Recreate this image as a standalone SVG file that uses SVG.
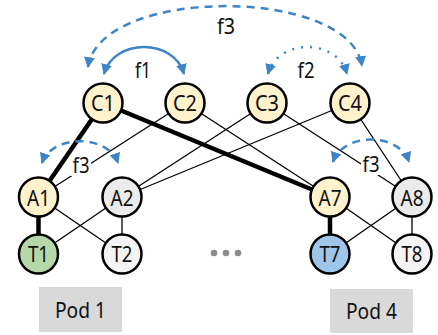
<svg xmlns="http://www.w3.org/2000/svg" width="438" height="335" viewBox="0 0 438 335">
  <style>
    .node circle { stroke: #000; stroke-width: 2.5; }
    .core circle, .hot circle { fill: #FFF2CC; }
    .agg circle { fill: #EBEBEB; }
    .tor circle { fill: #F4F4F4; }
    text { font-family: "Noto Sans", "Open Sans", sans-serif; fill: #111; text-anchor: middle; }
    .node text { font-size: 22px; }
    .link { stroke: #000; stroke-width: 1.3; fill: none; }
    .link.heavy { stroke-width: 4.5; }
    .flow { stroke: #3D85C6; stroke-width: 2.5; fill: none; marker-start: url(#head); marker-end: url(#head); }
    .dash { stroke-dasharray: 8 6; }
    .dots { stroke-dasharray: 2 7; }
    .flabel { font-size: 21px; }
    .pod rect { fill: #D9D9D9; }
    .pod text { font-size: 21px; }
  </style>
  <defs>
    <marker id="head" viewBox="0 0 10 10" refX="9" refY="5" markerWidth="11" markerHeight="11" markerUnits="userSpaceOnUse" orient="auto-start-reverse">
      <path d="M0,0 L10,5 L0,10 z" fill="#3D85C6"/>
    </marker>
  </defs>

  <rect width="438" height="335" fill="#fff"/>

  <!-- links between switches -->
  <g id="links">
    <line class="link" x1="185" y1="103" x2="38.5" y2="197"/>
    <line class="link" x1="185" y1="103" x2="330" y2="197"/>
    <line class="link" x1="267" y1="103" x2="122" y2="197"/>
    <line class="link" x1="267" y1="103" x2="412" y2="197"/>
    <line class="link" x1="350" y1="103" x2="122" y2="197"/>
    <line class="link" x1="350" y1="103" x2="412" y2="197"/>
    <line class="link" x1="38.5" y1="197" x2="122" y2="254"/>
    <line class="link" x1="122" y1="197" x2="38.5" y2="254"/>
    <line class="link" x1="122" y1="197" x2="122" y2="254"/>
    <line class="link" x1="330" y1="197" x2="412" y2="254"/>
    <line class="link" x1="412" y1="197" x2="330" y2="254"/>
    <line class="link" x1="412" y1="197" x2="412" y2="254"/>
    <!-- highlighted path T1 -> A1 -> C1 -> A7 -> T7 -->
    <line class="link heavy" x1="103" y1="103" x2="38.5" y2="197"/>
    <line class="link heavy" x1="103" y1="103" x2="330" y2="197"/>
    <line class="link heavy" x1="38.5" y1="197" x2="38.5" y2="254"/>
    <line class="link heavy" x1="330" y1="197" x2="330" y2="254"/>
  </g>

  <!-- flow arcs -->
  <g id="flows">
    <path class="flow dash" d="M88,67 C100,-14 350,-14 362,66"/>
    <path class="flow" d="M104,74 C114,38 174,38 184,74"/>
    <path class="flow dots" d="M268,74 C278,38 337,38 347,74"/>
    <path class="flow dash" d="M42,163 C52,134 108,134 118,163"/>
    <path class="flow dash" d="M333,162 C343,132 399,132 409,162"/>
  </g>

  <g id="flow-labels">
    <text class="flabel" x="226" y="34" textLength="18" lengthAdjust="spacingAndGlyphs">f3</text>
    <text class="flabel" x="143" y="78" textLength="16" lengthAdjust="spacingAndGlyphs">f1</text>
    <text class="flabel" x="306" y="78" textLength="17" lengthAdjust="spacingAndGlyphs">f2</text>
    <rect x="71" y="154" width="20" height="22" fill="#fff"/>
    <text class="flabel" x="81" y="173" textLength="17" lengthAdjust="spacingAndGlyphs">f3</text>
    <rect x="361" y="153" width="20" height="22" fill="#fff"/>
    <text class="flabel" x="371" y="172" textLength="17" lengthAdjust="spacingAndGlyphs">f3</text>
  </g>

  <!-- core switches -->
  <g id="C1" class="node core"><circle cx="103" cy="103" r="19.5"/><text x="103" y="111" textLength="24" lengthAdjust="spacingAndGlyphs">C1</text></g>
  <g id="C2" class="node core"><circle cx="185" cy="103" r="19.5"/><text x="185" y="111" textLength="24" lengthAdjust="spacingAndGlyphs">C2</text></g>
  <g id="C3" class="node core"><circle cx="267" cy="103" r="19.5"/><text x="267" y="111" textLength="24" lengthAdjust="spacingAndGlyphs">C3</text></g>
  <g id="C4" class="node core"><circle cx="350" cy="103" r="19.5"/><text x="350" y="111" textLength="24" lengthAdjust="spacingAndGlyphs">C4</text></g>

  <!-- aggregation switches -->
  <g id="A1" class="node hot"><circle cx="38.5" cy="197" r="19.5"/><text x="38.5" y="206" textLength="23" lengthAdjust="spacingAndGlyphs">A1</text></g>
  <g id="A2" class="node agg"><circle cx="122" cy="197" r="19.5"/><text x="122" y="206" textLength="23" lengthAdjust="spacingAndGlyphs">A2</text></g>
  <g id="A7" class="node hot"><circle cx="330" cy="197" r="19.5"/><text x="330" y="206" textLength="23" lengthAdjust="spacingAndGlyphs">A7</text></g>
  <g id="A8" class="node agg"><circle cx="412" cy="197" r="19.5"/><text x="412" y="206" textLength="23" lengthAdjust="spacingAndGlyphs">A8</text></g>

  <!-- top-of-rack switches -->
  <g id="T1" class="node tor"><circle cx="38.5" cy="254" r="19.5" style="fill:#B6D7A8"/><text x="38.5" y="262" textLength="21" lengthAdjust="spacingAndGlyphs">T1</text></g>
  <g id="T2" class="node tor"><circle cx="122" cy="254" r="19.5"/><text x="122" y="262" textLength="21" lengthAdjust="spacingAndGlyphs">T2</text></g>
  <g id="T7" class="node tor"><circle cx="330" cy="254" r="19.5" style="fill:#9FC5E8"/><text x="330" y="262" textLength="21" lengthAdjust="spacingAndGlyphs">T7</text></g>
  <g id="T8" class="node tor"><circle cx="412" cy="254" r="19.5"/><text x="412" y="262" textLength="21" lengthAdjust="spacingAndGlyphs">T8</text></g>

  <!-- ellipsis between pods -->
  <g id="ellipsis" fill="#8C8C8C">
    <circle cx="214" cy="253" r="3.3"/>
    <circle cx="226" cy="253" r="3.3"/>
    <circle cx="238" cy="253" r="3.3"/>
  </g>

  <!-- pod captions -->
  <g id="pod1" class="pod"><rect x="39" y="287" width="83" height="45"/><text x="80.5" y="318" textLength="51" lengthAdjust="spacingAndGlyphs">Pod 1</text></g>
  <g id="pod4" class="pod"><rect x="330" y="289" width="83" height="44"/><text x="371.5" y="319" textLength="51" lengthAdjust="spacingAndGlyphs">Pod 4</text></g>
</svg>
